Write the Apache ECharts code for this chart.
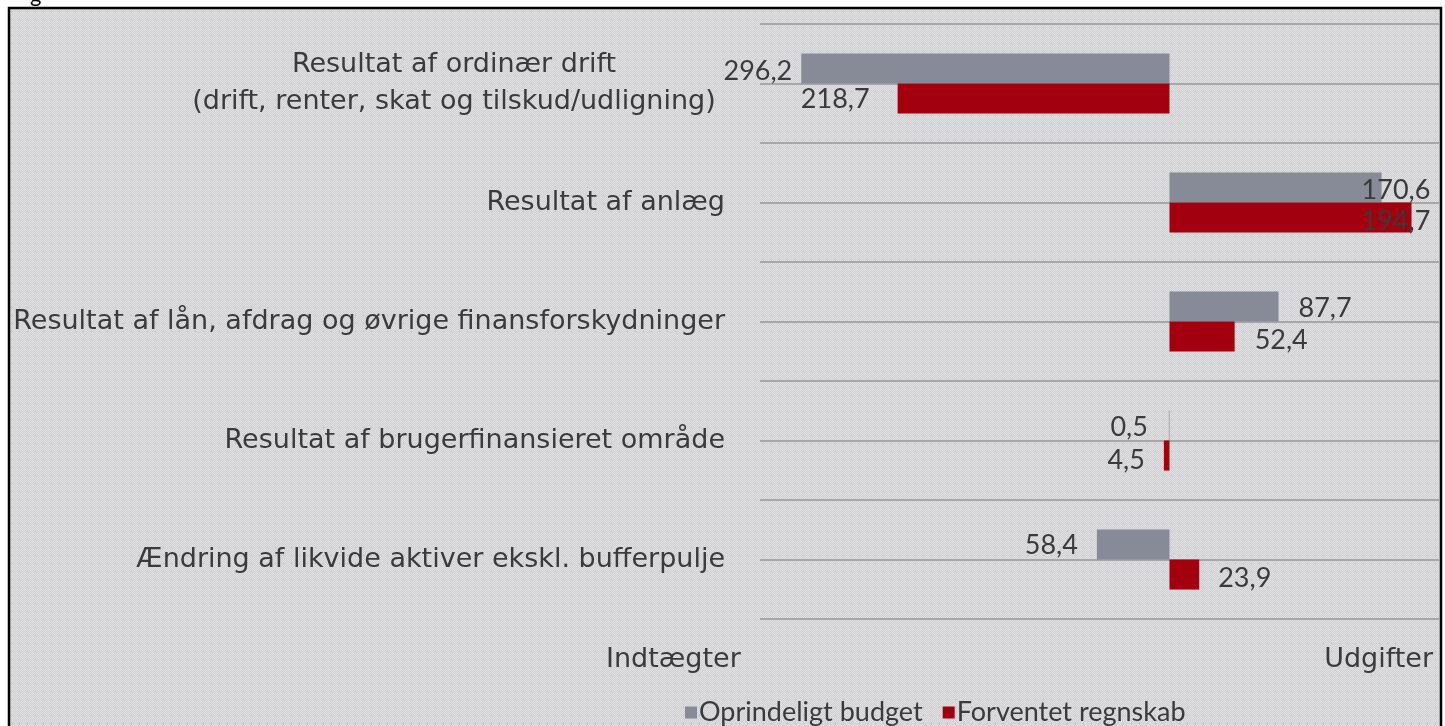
<!DOCTYPE html>
<html>
<head>
<meta charset="utf-8">
<script src="https://cdn.jsdelivr.net/npm/echarts@6/dist/echarts.min.js"></script>
<style>
  html, body { margin: 0; padding: 0; background: #fff; }
  #chart { width: 1445px; height: 726px; }
</style>
</head>
<body>
<div id="chart"></div>
<script>
  // categories, top to bottom
  let categories = [
    'Resultat af ordinær drift\n(drift, renter, skat og tilskud/udligning)',
    'Resultat af anlæg',
    'Resultat af lån, afdrag og øvrige finansforskydninger',
    'Resultat af brugerfinansieret område',
    'Ændring af likvide aktiver ekskl. bufferpulje'
  ]
  let seriesNames = ['Oprindeligt budget', 'Forventet regnskab']
  // negative = indtægter (left), positive = udgifter (right)
  let budget = [-296.2, 170.6, 87.7, -0.5, -58.4]
  let forecast = [-218.7, 194.7, 52.4, -4.5, 23.9]
  let sideTitles = ['Indtægter', 'Udgifter']

  // hand placed label nudges, as in the original (x, y)
  let budgetLabelShift = [[-9, 3], [-20, 3], [20, 2], [-21, 2], [-19, 1]]
  let forecastLabelShift = [[-28, 1], [-50, 4], [20, 4], [-19, 5], [19, 4]]

  let catFont = '"DejaVu Sans", sans-serif'
  let numFont = 'Lato, sans-serif'
  let textColor = '#3a3a3a'

  function makePattern() {
    let c = document.createElement('canvas')
    c.width = 8
    c.height = 8
    let ctx = c.getContext('2d')
    ctx.fillStyle = '#cfcfd2'
    ctx.fillRect(0, 0, 8, 8)
    ctx.fillStyle = '#e1e1e3'
    for (let y = 0; y < 8; y++) {
      for (let x = 0; x < 8; x++) {
        if ((x + y) % 2 === 0) ctx.fillRect(x, y, 1, 1)
      }
    }
    ctx.fillStyle = '#c6c6e6'
    ctx.fillRect(3, 2, 1, 3)
    ctx.fillRect(2, 3, 3, 1)
    return c
  }

  function fmt(v) {
    return Math.abs(v).toFixed(1).replace('.', ',')
  }

  function buildData(values, shifts) {
    return values.map(function(v, i) {
      return {
        value: v,
        label: {
          position: v < 0 ? 'left' : 'right',
          distance: 0,
          offset: shifts[i]
        }
      }
    })
  }

  let labelStyle = {
    show: true,
    fontSize: 27,
    fontFamily: numFont,
    color: textColor,
    formatter: function(p) { return fmt(p.value) }
  }

  let chart = echarts.init(document.getElementById('chart'))
  let option = {
    backgroundColor: '#fff',
    animation: false,
    color: ['#868b97', '#a3000f'],
    graphic: [
      {
        type: 'rect',
        z: -10,
        silent: true,
        shape: {x: 9, y: 8, width: 1432, height: 740},
        style: {fill: {image: makePattern(), repeat: 'repeat'}, stroke: '#000', lineWidth: 2.5}
      },
      {
        type: 'text',
        left: 30,
        top: -16,
        style: {text: 'g', font: '22px ' + numFont, fill: '#000'}
      },
      {
        type: 'text',
        left: 606,
        top: 646,
        style: {text: sideTitles[0], font: '27px ' + catFont, fill: textColor}
      },
      {
        type: 'text',
        right: 12,
        top: 646,
        style: {text: sideTitles[1], font: '27px ' + catFont, fill: textColor}
      }
    ],
    legend: {
      data: seriesNames,
      left: 680,
      top: 694,
      icon: 'rect',
      itemWidth: 12,
      itemHeight: 12,
      itemGap: 20,
      textStyle: {fontSize: 27, fontFamily: numFont, color: textColor, padding: [0, 0, 0, -3]}
    },
    grid: {
      left: 760,
      right: 6,
      top: 24,
      bottom: 107,
      containLabel: false
    },
    xAxis: {
      type: 'value',
      min: -329.4,
      max: 216.8,
      show: false
    },
    yAxis: [
      {
        type: 'category',
        inverse: true,
        data: categories.map(function(c, i) {
          if (i === 0) {
            return {value: c, textStyle: {align: 'center', padding: [0, 542, 0, 0], lineHeight: 37}}
          }
          return c
        }),
        axisLine: {show: false},
        axisTick: {show: false},
        splitLine: {show: false},
        axisLabel: {
          margin: 35,
          fontSize: 27,
          fontFamily: catFont,
          color: textColor
        }
      },
      {
        type: 'value',
        min: 0,
        max: 10,
        interval: 1,
        axisLine: {show: false},
        axisTick: {show: false},
        axisLabel: {show: false},
        splitLine: {show: true, lineStyle: {color: '#a7a7a9', width: 2}}
      }
    ],
    series: [
      {
        name: seriesNames[0],
        type: 'bar',
        barGap: '0%',
        barCategoryGap: '49.5%',
        label: labelStyle,
        data: buildData(budget, budgetLabelShift)
      },
      {
        name: seriesNames[1],
        type: 'bar',
        barGap: '0%',
        barCategoryGap: '49.5%',
        label: labelStyle,
        data: buildData(forecast, forecastLabelShift)
      }
    ]
  }
  chart.setOption(option)
</script>
</body>
</html>
